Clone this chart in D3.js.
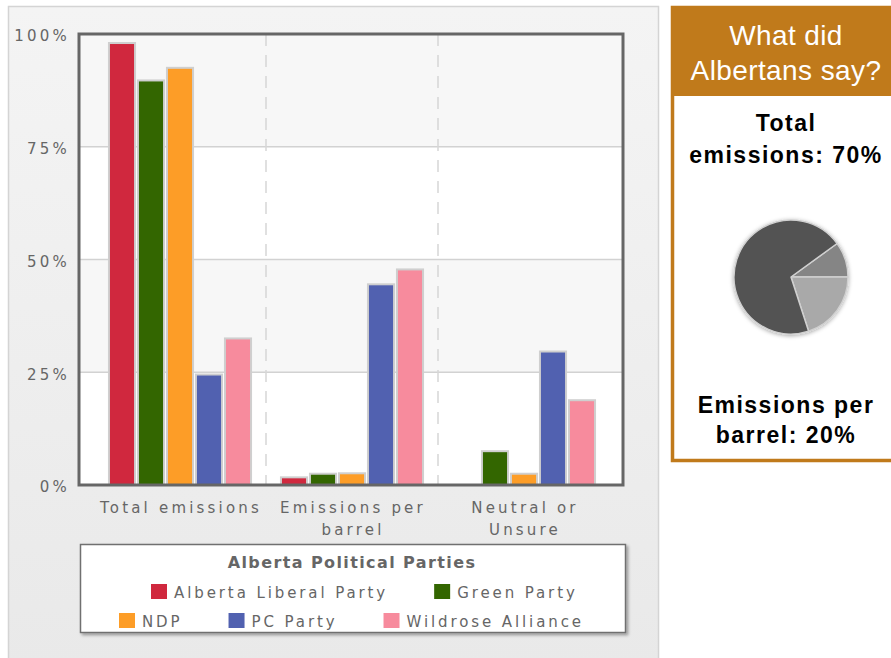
<!DOCTYPE html>
<html>
<head>
<meta charset="utf-8">
<script src="https://cdn.jsdelivr.net/npm/d3@7"></script>
<style>
  html, body { margin: 0; padding: 0; background: #ffffff; }
  svg { display: block; }
  .axis-text { font-family: "DejaVu Sans", Verdana, sans-serif; font-size: 15px; fill: #666; letter-spacing: 3.2px; }
  .leg-text { font-family: "DejaVu Sans", Verdana, sans-serif; font-size: 15px; fill: #666; letter-spacing: 2.9px; }
  .leg-title { font-family: "DejaVu Sans", Verdana, sans-serif; font-size: 16px; font-weight: bold; fill: #666; letter-spacing: 1.4px; }
  .side-head { font-family: "Liberation Sans", Arial, sans-serif; font-size: 28px; fill: #ffffff; letter-spacing: 0.4px; }
  .side-body { font-family: "Liberation Sans", Arial, sans-serif; font-size: 23px; font-weight: bold; fill: #000; letter-spacing: 1.5px; }
</style>
</head>
<body>
<svg id="chart" width="891" height="658"></svg>
<script>
// ---------------- data ----------------
const categories = ["Total emissions", "Emissions per barrel", "Neutral or Unsure"];
const categoryLines = [["Total emissions"], ["Emissions per", "barrel"], ["Neutral or", "Unsure"]];
const parties = ["Alberta Liberal Party", "Green Party", "NDP", "PC Party", "Wildrose Alliance"];
const partyColors = ["#d0283e", "#336600", "#fd9d27", "#5161b0", "#f78b9d"];
const liberalValues = [98, 1.7, 0];
const greenValues = [89.7, 2.5, 7.5];
const ndpValues = [92.5, 2.6, 2.5];
const pcValues = [24.5, 44.5, 29.6];
const wildroseValues = [32.5, 47.8, 18.8];
const yTicks = [0, 25, 50, 75, 100];
const legendTitle = "Alberta Political Parties";
const sideTitleLines = ["What did", "Albertans say?"];
const pieLabels = ["Neutral or Unsure", "Emissions per barrel", "Total emissions"];
const pieValues = [10, 20, 70];
const pieColors = ["#858585", "#a9a9a9", "#525252"];
const sideTopLines = ["Total", "emissions: 70%"];
const sideBottomLines = ["Emissions per", "barrel: 20%"];

const seriesValues = [liberalValues, greenValues, ndpValues, pcValues, wildroseValues];

// ---------------- layout ----------------
const svg = d3.select("#chart");
const defs = svg.append("defs");

const bg = defs.append("linearGradient").attr("id", "panelBg").attr("x1", 0).attr("y1", 0).attr("x2", 0).attr("y2", 1);
bg.append("stop").attr("offset", "0%").attr("stop-color", "#f4f4f4");
bg.append("stop").attr("offset", "100%").attr("stop-color", "#e9e9e9");

const shadow = defs.append("filter").attr("id", "shadow").attr("x", "-10%").attr("y", "-10%").attr("width", "130%").attr("height", "140%");
shadow.append("feDropShadow").attr("dx", 2).attr("dy", 2).attr("stdDeviation", 1.5).attr("flood-color", "#000").attr("flood-opacity", 0.35);

const pieShadow = defs.append("filter").attr("id", "pieShadow").attr("x", "-20%").attr("y", "-20%").attr("width", "140%").attr("height", "140%");
pieShadow.append("feDropShadow").attr("dx", 0).attr("dy", 1).attr("stdDeviation", 2).attr("flood-color", "#000").attr("flood-opacity", 0.35);

// left panel
svg.append("rect").attr("x", 8.5).attr("y", 6.5).attr("width", 650).attr("height", 660)
  .attr("fill", "url(#panelBg)").attr("stroke", "#d4d4d4").attr("stroke-width", 1.5);

const plot = { left: 79, right: 623, top: 34, bottom: 485 };

const y = d3.scaleLinear().domain([0, 100]).range([plot.bottom, plot.top]);
const x0 = d3.scaleBand().domain(categories).range([94, 610]).paddingInner(0).paddingOuter(0);
const x1 = d3.scaleBand().domain(parties).range([0, x0.bandwidth()]).paddingInner(0.1).paddingOuter(0.5155);

// plot background bands
const g = svg.append("g");
g.append("rect").attr("x", plot.left).attr("y", plot.top).attr("width", plot.right - plot.left).attr("height", plot.bottom - plot.top).attr("fill", "#fff");
const bandPairs = d3.pairs(yTicks);
g.selectAll("rect.band").data(bandPairs).join("rect").attr("class", "band")
  .attr("x", plot.left).attr("width", plot.right - plot.left)
  .attr("y", d => y(d[1])).attr("height", d => y(d[0]) - y(d[1]))
  .attr("fill", (d, i) => i % 2 === 1 ? "#f7f7f7" : "#ffffff");

// horizontal grid lines
g.selectAll("line.hgrid").data(yTicks.slice(1, -1)).join("line").attr("class", "hgrid")
  .attr("x1", plot.left).attr("x2", plot.right).attr("y1", d => y(d)).attr("y2", d => y(d))
  .attr("stroke", "#d2d2d2").attr("stroke-width", 1.5);

// vertical dashed separators
g.selectAll("line.vgrid").data(categories.slice(1)).join("line").attr("class", "vgrid")
  .attr("x1", d => x0(d)).attr("x2", d => x0(d)).attr("y1", plot.top).attr("y2", plot.bottom)
  .attr("stroke", "#d6d6d6").attr("stroke-width", 1.5).attr("stroke-dasharray", "12,9");

// bars
const groups = g.selectAll("g.cat").data(categories).join("g").attr("class", "cat")
  .attr("transform", d => `translate(${x0(d)},0)`);
groups.selectAll("rect.bar")
  .data((c, ci) => parties.map((p, pi) => ({ party: p, pi, value: seriesValues[pi][ci] })).filter(d => d.value > 0))
  .join("rect").attr("class", "bar")
  .attr("x", d => x1(d.party))
  .attr("width", x1.bandwidth())
  .attr("y", d => y(d.value))
  .attr("height", d => y(0) - y(d.value))
  .attr("fill", d => partyColors[d.pi])
  .attr("stroke", "#cfcfcf").attr("stroke-width", 2);

// plot border
g.append("rect").attr("x", plot.left).attr("y", plot.top).attr("width", plot.right - plot.left).attr("height", plot.bottom - plot.top)
  .attr("fill", "none").attr("stroke", "#666").attr("stroke-width", 3);

// y axis labels
const yAxis = d3.axisLeft(y).tickValues(yTicks).tickFormat(d => d + "%").tickSize(0).tickPadding(9);
const yg = svg.append("g").attr("transform", `translate(${plot.left},0)`).call(yAxis);
yg.select(".domain").remove();
yg.selectAll("text").attr("class", "axis-text").attr("dy", "0.45em").style("font-family", null).style("font-size", null).attr("fill", null);

// x axis labels
const xg = svg.append("g");
xg.selectAll("text.xl").data(categories).join("text").attr("class", "axis-text xl")
  .attr("text-anchor", "middle")
  .attr("transform", d => `translate(${x0(d) + x0.bandwidth() / 2 + 1},513)`)
  .selectAll("tspan").data((d, i) => categoryLines[i]).join("tspan")
  .attr("x", 0).attr("y", (d, i) => i * 22).text(d => d);

// legend
const legend = svg.append("g");
legend.append("rect").attr("x", 80.5).attr("y", 544.5).attr("width", 545).attr("height", 88)
  .attr("fill", "#fff").attr("stroke", "#707070").attr("stroke-width", 1.5).attr("filter", "url(#shadow)");
legend.append("text").attr("class", "leg-title").attr("x", 352).attr("y", 568).attr("text-anchor", "middle").text(legendTitle);
const legendRows = [[0, 1], [2, 3, 4]];
const rowStartX = [151, 119];
const rowBaseY = [598, 627];
legendRows.forEach((row, ri) => {
  let cx = rowStartX[ri];
  row.forEach(pi => {
    const item = legend.append("g");
    item.append("rect").attr("x", cx).attr("y", rowBaseY[ri] - 14).attr("width", 16).attr("height", 15)
      .attr("fill", partyColors[pi]);
    const t = item.append("text").attr("class", "leg-text").attr("x", cx + 23).attr("y", rowBaseY[ri]).text(parties[pi]);
    const w = t.node().getComputedTextLength();
    cx = cx + 23 + w + 46;
  });
});

// right panel
const side = svg.append("g");
const sp = { left: 671, top: 6, right: 902, bottom: 462, head: 96 };
const orange = "#c07a1b";
side.append("rect").attr("x", sp.left + 1.5).attr("y", sp.top + 1.5).attr("width", sp.right - sp.left - 3).attr("height", sp.bottom - sp.top - 3)
  .attr("fill", "#fff").attr("stroke", orange).attr("stroke-width", 3.5);
side.append("rect").attr("x", sp.left).attr("y", sp.top).attr("width", sp.right - sp.left).attr("height", sp.head - sp.top).attr("fill", orange);
const cxSide = 786;
side.selectAll("text.head").data(sideTitleLines).join("text").attr("class", "side-head")
  .attr("x", cxSide).attr("y", (d, i) => 45 + i * 35).attr("text-anchor", "middle").text(d => d);
side.selectAll("text.top").data(sideTopLines).join("text").attr("class", "side-body")
  .attr("x", cxSide).attr("y", (d, i) => 131 + i * 32).attr("text-anchor", "middle").text(d => d);
side.selectAll("text.bot").data(sideBottomLines).join("text").attr("class", "side-body")
  .attr("x", cxSide).attr("y", (d, i) => 413 + i * 30).attr("text-anchor", "middle").text(d => d);

// pie
const pie = d3.pie().sort(null).value(d => d).startAngle(54 * Math.PI / 180).endAngle(414 * Math.PI / 180);
const arc = d3.arc().innerRadius(0).outerRadius(57);
const pg = side.append("g").attr("transform", "translate(791,277)").attr("filter", "url(#pieShadow)");
pg.selectAll("path").data(pie(pieValues)).join("path")
  .attr("d", arc)
  .attr("fill", (d, i) => pieColors[i])
  .attr("stroke", "#d0d0d0").attr("stroke-width", 1.5).attr("stroke-linejoin", "round");
</script>
</body>
</html>
